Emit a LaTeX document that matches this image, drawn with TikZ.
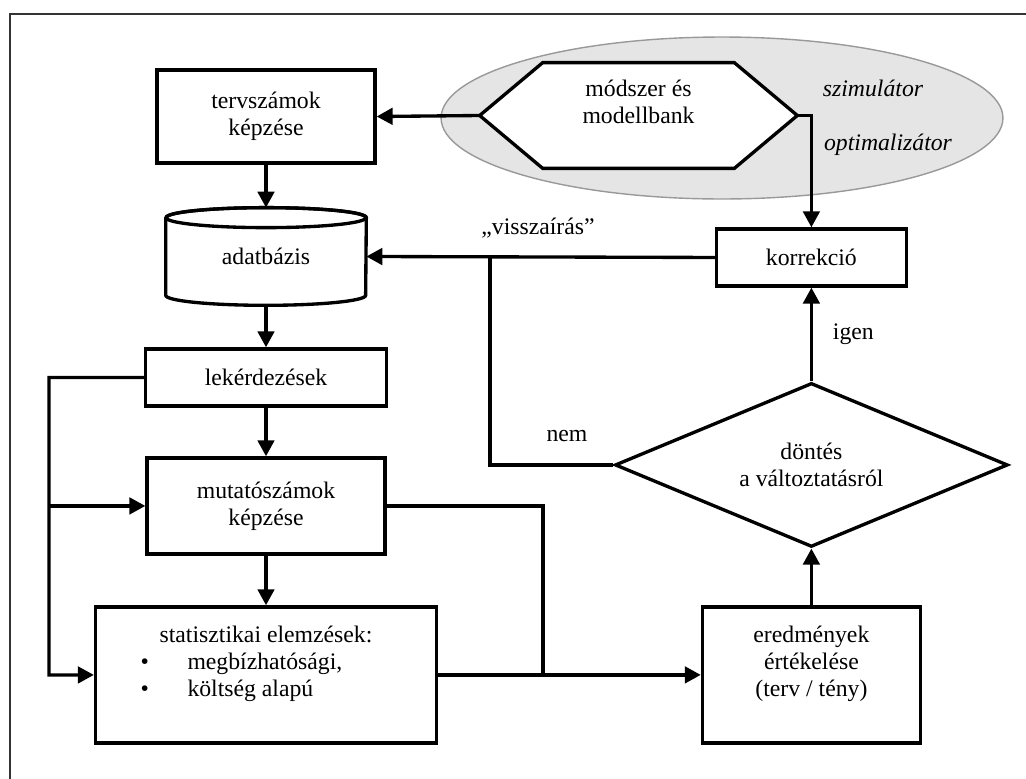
\documentclass[tikz,border=0pt]{standalone}
\usepackage{fontspec}
\setmainfont{Liberation Serif}
\usetikzlibrary{shapes.geometric,arrows.meta}
\pgfdeclarelayer{background}
\pgfsetlayers{background,main}
\tikzstyle{box}=[
    draw,
    line width = 1.9pt,
    align = center,
    inner sep = 2pt
]
\tikzstyle{arr}=[
    -{Triangle[length=0.32cm,width=0.33cm]},
    line width = 1.9pt
]

\begin{document}
\begin{tikzpicture}[x=0.02cm, y=-0.02cm, node distance={2.8cm},
    font=\fontsize{13.5}{15.5}\selectfont,
    plain/.style = {draw, line width=1.9pt},
    dbnode/.style = {align=center, minimum width=4cm, minimum height=1.94cm},
    decision/.style = {draw, diamond, line width=1.9pt, aspect=2.4, inner sep=0pt,
        minimum width=7.86cm, minimum height=3.28cm, align=center}]
        \useasboundingbox (0,0) rectangle (1026,778);
        \draw[black!80, line width=0.8pt] (10,14) rectangle (1060,800);

        \node[align=center, minimum width=6.34cm, minimum height=2.1cm] (bank) at (638.5,115.5)
            {módszer és\\modellbank\\\mbox{}};
        \begin{pgfonlayer}{background}
            \node[ellipse, draw=black!40, fill=black!10, line width=0.8pt,
                minimum width=11.24cm, minimum height=3.24cm] (sim) at (722,118) {};
            \draw[plain, fill=white] (bank.west) -- ([xshift=1.26cm]bank.north west) -- ([xshift=-1.26cm]bank.north east)
                -- (bank.east) -- ([xshift=-1.26cm]bank.south east) -- ([xshift=1.26cm]bank.south west) -- cycle;
        \end{pgfonlayer}
        \node[font=\fontsize{13.5}{15.5}\selectfont\itshape] (szim) at (873,88) {szimulátor};
        \node[font=\fontsize{13.5}{15.5}\selectfont\itshape] (opt) at (888,145) {optimalizátor};

        \node[box, minimum width=4.36cm, minimum height=1.86cm] (terv) at (266,116.5) {tervszámok\\képzése};
        \node[dbnode] (adat) [below of = terv] {adatbázis};
        \draw[plain] ([yshift=-0.2cm]adat.north west) -- ([yshift=0.2cm]adat.south west)
            arc[start angle=180, end angle=360, x radius=2cm, y radius=0.2cm]
            -- ([yshift=-0.2cm]adat.north east)
            arc[start angle=0, end angle=180, x radius=2cm, y radius=0.2cm];
        \draw[plain] ([yshift=-0.2cm]adat.north) ellipse[x radius=2cm, y radius=0.2cm];
        \node[box, minimum width=4.82cm, minimum height=1.14cm] (lek) [node distance=2.42cm, below of = adat] {lekérdezések};
        \node[box, minimum width=4.76cm, minimum height=1.92cm] (mut) [node distance=2.57cm, below of = lek] {mutatószámok\\képzése};
        \node[box, minimum width=6.82cm, minimum height=2.72cm] (stat) [node distance=3.38cm, below of = mut]
            {statisztikai elemzések:\\
             \makebox[5.02cm][l]{\makebox[0.94cm][l]{\textbullet}megbízhatósági,}\\
             \makebox[5.02cm][l]{\makebox[0.94cm][l]{\textbullet}költség alapú}\\\mbox{}};
        \node[box, minimum width=4.36cm, minimum height=2.72cm] (ered) [node distance=10.91cm, right of = stat]
            {eredmények\\értékelése\\(terv / tény)\\\mbox{}};
        \node[decision] (dont) [node distance=4.2cm, above of = ered] {döntés\\a változtatásról};
        \node[box, minimum width=3.8cm, minimum height=1.14cm] (korr) [node distance=4.15cm, above of = dont] {korrekció};

        \coordinate (lft) at (49,675);
        \coordinate (mrg) at (543,675);
        \coordinate (back) at (490,257);

        \draw[arr] (bank.west) -- (terv.east);
        \draw[arr] (terv) -- (adat);
        \draw[arr] (adat) -- (lek);
        \draw[arr] (lek) -- (mut);
        \draw[arr] (mut) -- (stat);
        \draw[arr] (lek.west) -| (lft) -- (stat.west);
        \draw[arr] (lft |- mut.west) -- (mut.west);
        \draw[plain] (mut.east) -| (mrg);
        \draw[arr] (stat.east) -- (ered.west);
        \draw[arr] (ered) -- (dont);
        \draw[arr] (dont) -- (korr) node [midway, right, xshift=8pt] {igen};
        \draw[arr] (korr.west) -- (adat.east);
        \draw[plain] (dont.west) -| (back);
        \draw[arr] (bank.east) -| (korr.north);

        \node (vissza) at (538,228) {„visszaírás”};
        \node (nem) at (567,436) {nem};

    \end{tikzpicture}
\end{document}
